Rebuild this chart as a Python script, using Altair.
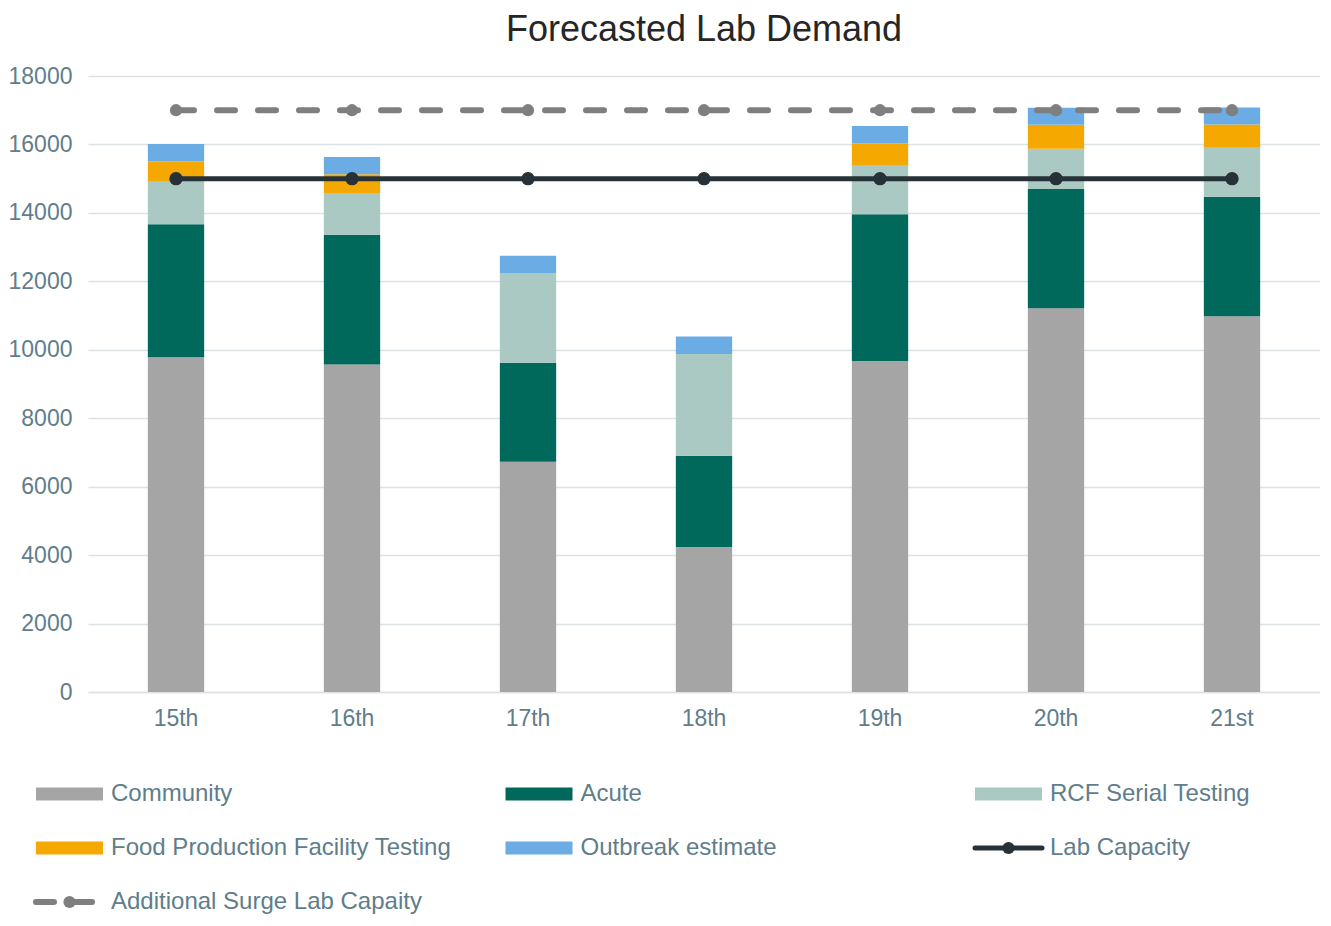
import altair as alt
import pandas as pd

# ---------------- data ----------------
dates = ["15th", "16th", "17th", "18th", "19th", "20th", "21st"]
series_names = ["Community", "Acute", "RCF Serial Testing",
                "Food Production Facility Testing", "Outbreak estimate"]
community = [9780, 9570, 6730, 4240, 9670, 11210, 10980]
acute = [3890, 3790, 2890, 2660, 4290, 3490, 3490]
rcf_serial = [1240, 1220, 2620, 2980, 1420, 1175, 1430]
food_production = [590, 550, 0, 0, 650, 700, 680]
outbreak = [510, 500, 510, 510, 510, 500, 500]
lab_capacity = [15000, 15000, 15000, 15000, 15000, 15000, 15000]
surge_capacity = [17000, 17000, 17000, 17000, 17000, 17000, 17000]
y_ticks = [0, 2000, 4000, 6000, 8000, 10000, 12000, 14000, 16000, 18000]

# legend entries: label, column, row
legend_labels = ["Community", "Acute", "RCF Serial Testing",
                 "Food Production Facility Testing", "Outbreak estimate", "Lab Capacity",
                 "Additional Surge Lab Capaity"]
legend_cols = [0, 1, 2, 0, 1, 2, 0]
legend_rows = [0, 0, 0, 1, 1, 1, 2]
legend_kinds = ["bar", "bar", "bar", "bar", "bar", "line", "dash"]

# ---------------- styles ----------------
series_colors = ["#A5A5A5", "#00695B", "#AAC9C3", "#F5A800", "#6CACE4"]
cap_color = "#263238"
surge_color = "#7F7F7F"
label_color = "#607D8B"
grid_color = "#DBE1E5"
FONT = "Liberation Sans"

W, H = 1232, 616
AXIS_EXT = 80
COL_PX = 469.5          # pixel distance between legend columns
SW_HALF = 33.5          # half length of a legend swatch (px)
ROW_PX = 54             # pixel distance between legend rows
LEG_FIRST_CENTER = -18.5  # first swatch centre relative to plot start (px)

values = [community, acute, rcf_serial, food_production, outbreak]
rows = []
for i, name in enumerate(series_names):
    for d, v in zip(dates, values[i]):
        rows.append({"date": d, "series": name, "value": v, "order": i})
df = pd.DataFrame(rows)
cap_df = pd.DataFrame({"date": dates, "value": lab_capacity})
surge_df = pd.DataFrame({"date": dates, "value": surge_capacity})

x_enc = alt.X(
    "date:N", sort=dates,
    scale=alt.Scale(type="band", paddingInner=0.68, paddingOuter=0.34),
    axis=alt.Axis(title=None, labelFontSize=23, labelColor=label_color, labelFont=FONT,
                  labelPadding=15, ticks=False, domainColor=grid_color, domainWidth=1.5,
                  labelAngle=0, grid=False),
)
y_enc = alt.Y(
    "value:Q", stack="zero",
    scale=alt.Scale(domain=[0, 18000], nice=False),
    axis=alt.Axis(title=None, values=y_ticks, grid=True, gridColor=grid_color, gridWidth=1.5,
                  labelFontSize=23, labelColor=label_color, labelFont=FONT, labelPadding=16,
                  ticks=False, domain=False, labelFlush=False, labelOverlap=False,
                  minExtent=AXIS_EXT, maxExtent=AXIS_EXT, format="d"),
)

bars = alt.Chart(df).mark_bar().encode(
    x=x_enc,
    y=y_enc,
    color=alt.Color("series:N", scale=alt.Scale(domain=series_names, range=series_colors),
                    legend=None),
    order=alt.Order("order:Q", sort="ascending"),
)

x_line = alt.X("date:N", sort=dates, bandPosition=0.5)
y_line = alt.Y("value:Q")

surge_line = alt.Chart(surge_df).mark_line(
    color=surge_color, strokeWidth=6, strokeDash=[18, 23], strokeCap="round"
).encode(x=x_line, y=y_line)
surge_pts = alt.Chart(surge_df).mark_circle(color=surge_color, size=150, opacity=1).encode(
    x=x_line, y=y_line)
cap_line = alt.Chart(cap_df).mark_line(color=cap_color, strokeWidth=5).encode(x=x_line, y=y_line)
cap_pts = alt.Chart(cap_df).mark_circle(color=cap_color, size=180, opacity=1).encode(
    x=x_line, y=y_line)

main = alt.layer(bars, surge_line, surge_pts, cap_line, cap_pts).properties(
    width=W, height=H,
    title=alt.TitleParams("Forecasted Lab Demand", fontSize=36, font=FONT, color="#262626",
                          fontWeight="normal", anchor="middle", offset=16),
)

# ---------------- legend ----------------
legend_color_map = dict(zip(series_names, series_colors))
legend_color_map["Lab Capacity"] = cap_color
legend_color_map["Additional Surge Lab Capaity"] = surge_color
leg_df = pd.DataFrame({
    "label": legend_labels,
    "col": legend_cols,
    "row": legend_rows,
    "kind": legend_kinds,
    "clr": [legend_color_map[l] for l in legend_labels],
})

half_u = SW_HALF / COL_PX
x0 = -LEG_FIRST_CENTER / COL_PX
leg_x_scale = alt.Scale(domain=[x0, x0 + W / COL_PX], nice=False, zero=False)
n_rows_span = 2.73
leg_h = n_rows_span * ROW_PX
leg_y_scale = alt.Scale(domain=[-0.5, n_rows_span - 0.5], reverse=True, nice=False, zero=False)
leg_y_axis = alt.Axis(title=None, labels=False, ticks=False, domain=False, grid=False,
                      minExtent=AXIS_EXT, maxExtent=AXIS_EXT)

leg_base = alt.Chart(leg_df).transform_calculate(
    xl=f"datum.col - {half_u}", xr=f"datum.col + {half_u}"
)
sw_bar = leg_base.transform_filter("datum.kind == 'bar'").mark_rule(strokeWidth=13).encode(
    x=alt.X("xl:Q", scale=leg_x_scale, axis=None), x2="xr:Q",
    y=alt.Y("row:Q", scale=leg_y_scale, axis=leg_y_axis),
    color=alt.Color("clr:N", scale=None),
)
sw_line = leg_base.transform_filter("datum.kind == 'line'").mark_rule(
    strokeWidth=5, strokeCap="round").encode(
    x=alt.X("xl:Q", scale=leg_x_scale, axis=None), x2="xr:Q",
    y=alt.Y("row:Q", scale=leg_y_scale, axis=leg_y_axis),
    color=alt.Color("clr:N", scale=None),
)
sw_dash = leg_base.transform_filter("datum.kind == 'dash'").mark_rule(
    strokeWidth=6, strokeCap="round", strokeDash=[18, 20]).encode(
    x=alt.X("xl:Q", scale=leg_x_scale, axis=None), x2="xr:Q",
    y=alt.Y("row:Q", scale=leg_y_scale, axis=leg_y_axis),
    color=alt.Color("clr:N", scale=None),
)
sw_dot = leg_base.transform_filter("datum.kind != 'bar'").mark_circle(size=150, opacity=1).encode(
    x=alt.X("col:Q", scale=leg_x_scale, axis=None),
    y=alt.Y("row:Q", scale=leg_y_scale, axis=leg_y_axis),
    color=alt.Color("clr:N", scale=None),
)
leg_text = leg_base.mark_text(align="left", baseline="middle", fontSize=24, font=FONT,
                              color=label_color, dx=SW_HALF + 8).encode(
    x=alt.X("col:Q", scale=leg_x_scale, axis=None),
    y=alt.Y("row:Q", scale=leg_y_scale, axis=leg_y_axis),
    text="label:N",
)
legend = alt.layer(sw_bar, sw_line, sw_dash, sw_dot, leg_text).properties(width=W, height=leg_h)

chart = alt.vconcat(main, legend, spacing=37).properties(
    padding={"left": 0, "top": 4, "right": 0, "bottom": 0}
).configure(font=FONT).configure_view(stroke=None)

chart.save("out.html", embed_options={"renderer": "svg", "actions": False})
